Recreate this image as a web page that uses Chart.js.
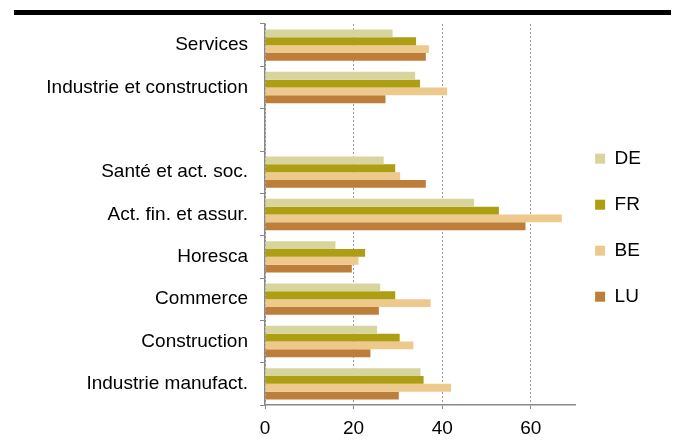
<!DOCTYPE html>
<html lang="fr">
<head>
  <meta charset="UTF-8">
  <title>Secteurs DE FR BE LU</title>
  <script src="https://cdn.jsdelivr.net/npm/chart.js"></script>
  <style>
    body { margin: 0; background: #fff; font-family: 'Liberation Sans', Arial, sans-serif; }
    .wrap { position: relative; width: 677px; height: 448px; }
    .topbar { position: absolute; left: 14px; top: 10px; width: 657px; height: 5px; background: #000; }
    canvas { position: absolute; left: 0; top: 0; }
  </style>
</head>
<body>
  <div class="wrap">
    <div class="topbar"></div>
    <canvas id="chart" width="677" height="448"></canvas>
  </div>
  <script>
    // catégories (la 3e est vide, séparateur)
    const categories = ['Services', 'Industrie et construction', '', 'Santé et act. soc.', 'Act. fin. et assur.', 'Horesca', 'Commerce', 'Construction', 'Industrie manufact.'];
    const valuesDE = [28.8, 33.9, null, 26.8, 47.2, 15.9, 26.0, 25.3, 35.1];
    const valuesFR = [34.1, 35.0, null, 29.4, 52.8, 22.6, 29.4, 30.4, 35.8];
    const valuesBE = [37.0, 41.1, null, 30.5, 67.0, 21.1, 37.4, 33.5, 42.0];
    const valuesLU = [36.3, 27.2, null, 36.3, 58.8, 19.6, 25.7, 23.8, 30.2];
    const xTicks = [0, 20, 40, 60];

    const mkSet = (label, data, color) => ({
      label: label,
      data: data,
      backgroundColor: color,
      borderWidth: 0,
      barPercentage: 1,
      categoryPercentage: 0.74
    });

    // petit décalage de la légende vers la gauche
    const legendShift = {
      id: 'legendShift',
      afterLayout(chart) {
        chart.legend.left -= 7;
        chart.legend.right -= 7;
      }
    };

    new Chart(document.getElementById('chart'), {
      type: 'bar',
      data: {
        labels: categories,
        datasets: [
          mkSet('DE', valuesDE, '#d8d49d'),
          mkSet('FR', valuesFR, '#ad9e13'),
          mkSet('BE', valuesBE, '#edc98d'),
          mkSet('LU', valuesLU, '#bc7e38')
        ]
      },
      options: {
        indexAxis: 'y',
        responsive: false,
        animation: false,
        layout: { padding: { top: 24, bottom: 0, left: 0, right: 19 } },
        plugins: {
          tooltip: { enabled: false },
          legend: {
            position: 'right',
            fullSize: false,
            title: { display: true, text: ' ', padding: 0, font: { size: 22 } },
            labels: {
              boxWidth: 10, boxHeight: 10, padding: 27, color: '#000',
              font: { family: "'Liberation Sans', Arial, sans-serif", size: 19 }
            }
          }
        },
        scales: {
          x: {
            min: 0, max: 70,
            afterBuildTicks: s => { s.ticks = xTicks.map(v => ({ value: v })); },
            grid: { color: '#9a9a9a', lineWidth: 1, tickLength: 4, tickColor: '#888' },
            border: { color: '#888', width: 1.5, dash: [2, 2] },
            ticks: { color: '#000', padding: 10, font: { family: "'Liberation Sans', Arial, sans-serif", size: 19, lineHeight: 1 } }
          },
          y: {
            afterFit: s => { s.width = 265; },
            grid: { offset: true, drawOnChartArea: false, tickLength: 5, color: '#888' },
            border: { color: '#888', width: 1.5 },
            ticks: { color: '#000', padding: 12, font: { family: "'Liberation Sans', Arial, sans-serif", size: 19 } }
          }
        }
      },
      plugins: [legendShift]
    });
  </script>
</body>
</html>
